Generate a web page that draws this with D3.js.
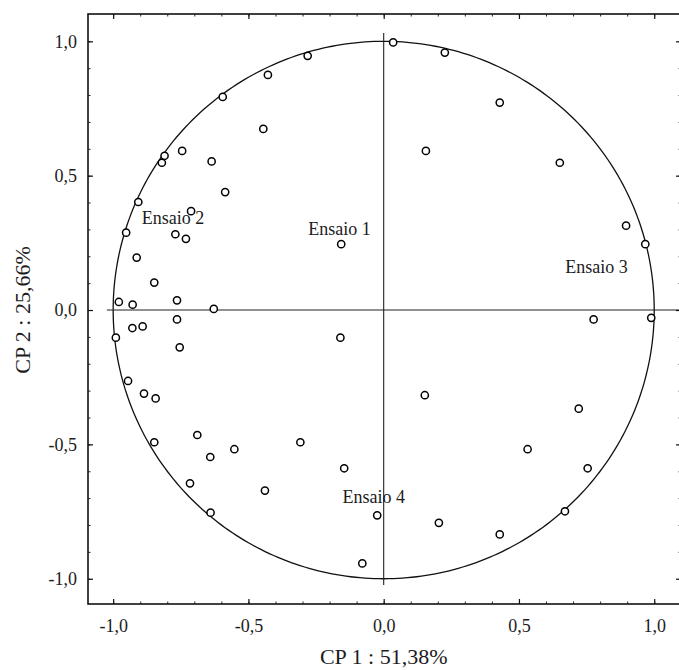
<!DOCTYPE html>
<html>
<head>
<meta charset="utf-8">
<script src="https://cdn.jsdelivr.net/npm/d3@7"></script>
<style>
  body {margin: 0; background: #fff;}
  svg {display: block;}
  text {font-family: "Liberation Serif", "Times New Roman", serif; fill: #1c1c1c;}
</style>
</head>
<body>
<div id="chart"></div>
<script>
`use strict`;

// loadings (CP 1, CP 2)
const CP1 = [
  -0.281, -0.428, -0.595, -0.445, -0.810, -0.820, -0.745, -0.636, -0.586, -0.907,
  -0.712, -0.952, -0.770, -0.731, -0.913, -0.848, -0.979, -0.928, -0.764, -0.628,
  -0.764, -0.929, -0.891, -0.990, -0.754, -0.945, -0.886, -0.843, -0.689, -0.848,
  -0.552, -0.641, -0.308, -0.716, -0.439, -0.640, -0.157, -0.160, 0.035, 0.226,
  0.429, 0.156, 0.651, 0.896, 0.967, 0.776, 0.989, 0.152, 0.721, 0.532,
  0.754, -0.146, -0.024, 0.204, 0.429, 0.670, -0.079
];

const CP2 = [
  0.946, 0.875, 0.793, 0.674, 0.574, 0.548, 0.592, 0.553, 0.439, 0.402,
  0.368, 0.288, 0.282, 0.265, 0.195, 0.102, 0.030, 0.020, 0.036, 0.004,
  -0.035, -0.067, -0.061, -0.103, -0.139, -0.264, -0.311, -0.329, -0.465, -0.492,
  -0.518, -0.547, -0.492, -0.645, -0.672, -0.754, 0.245, -0.103, 0.996, 0.958,
  0.772, 0.592, 0.548, 0.314, 0.245, -0.035, -0.029, -0.317, -0.367, -0.518,
  -0.589, -0.589, -0.764, -0.792, -0.835, -0.749, -0.943
];

const labelNames = [`Ensaio 1`, `Ensaio 2`, `Ensaio 3`, `Ensaio 4`];
const labelX = [-0.279, -0.894, 0.671, -0.152];
const labelY = [0.279, 0.320, 0.137, -0.719];

const majorTicks = [-1, -0.5, 0, 0.5, 1];
const minorTicks = d3.range(-10, 11).map(d => d / 10);

const xTitle = `CP 1 : 51,38%`;
const yTitle = `CP 2 : 25,66%`;

(function () {

  const W = 679, H = 670;

  const M = {left: 88, top: 14, right: 681, bottom: 604};

  let x = d3.scaleLinear().domain([-1.093, 1.099]).range([M.left, M.right]);

  let y = d3.scaleLinear().domain([-1.094, 1.1016]).range([M.bottom, M.top]);

  let fmt = d => d3.format(`.1f`)(d).replace(`−`, `-`).replace(`.`, `,`);

  let svg = d3.select(`#chart`).append(`svg`)
    .attr(`width`, W)
    .attr(`height`, H);

  // unit circle
  let ring = d3.range(0, 361).map(a => [Math.cos(a * Math.PI / 180), Math.sin(a * Math.PI / 180)]);

  svg.append(`path`)
    .datum(ring)
    .attr(`d`, d3.line().x(d => x(d[0])).y(d => y(d[1])))
    .attr(`fill`, `none`)
    .attr(`stroke`, `#111`)
    .style(`stroke-width`, 1.3);

  // cross lines
  svg.append(`line`)
    .attr(`x1`, x(-1.023)).attr(`x2`, x(1.1))
    .attr(`y1`, y(0)).attr(`y2`, y(0))
    .attr(`stroke`, `#222`)
    .style(`stroke-width`, 1.1);

  svg.append(`line`)
    .attr(`x1`, x(0)).attr(`x2`, x(0))
    .attr(`y1`, y(1.031)).attr(`y2`, y(-1.023))
    .attr(`stroke`, `#222`)
    .style(`stroke-width`, 1.1);

  // frame
  svg.append(`rect`)
    .attr(`x`, M.left).attr(`y`, M.top)
    .attr(`width`, M.right - M.left).attr(`height`, M.bottom - M.top)
    .attr(`fill`, `none`)
    .attr(`stroke`, `#111`)
    .style(`stroke-width`, 1.6);

  let axes = [
    [d3.axisBottom(x), `translate(0,${M.bottom})`, true],
    [d3.axisLeft(y), `translate(${M.left},0)`, true],
    [d3.axisTop(x), `translate(0,${M.top})`, false],
    [d3.axisRight(y), `translate(${M.right},0)`, false]
  ];

  axes.forEach(A => {

    let minor = svg.append(`g`)
      .attr(`transform`, A[1])
      .call(A[0].tickValues(minorTicks).tickSize(-2.5).tickFormat(``));

    minor.select(`.domain`).remove();

    minor.selectAll(`line`).attr(`stroke`, `#222`);

    let major = svg.append(`g`)
      .attr(`transform`, A[1])
      .call(A[0].tickValues(majorTicks).tickSize(-5).tickPadding(A[0] === axes[0][0] ? 15 : 11).tickFormat(A[2] ? fmt : ``));

    major.select(`.domain`).remove();

    major.selectAll(`line`).attr(`stroke`, `#111`).style(`stroke-width`, 1.2);

    major.selectAll(`text`)
      .attr(`fill`, `#1c1c1c`)
      .style(`font-family`, `"Liberation Serif", serif`)
      .style(`font-size`, `18px`);
  });

  // points
  svg.append(`g`).selectAll(`circle`).data(CP1)
    .enter()
    .append(`circle`)
    .attr(`cx`, d => x(d))
    .attr(`cy`, (d, i) => y(CP2[i]))
    .attr(`r`, 3.6)
    .attr(`fill`, `#fff`)
    .attr(`stroke`, `#000`)
    .style(`stroke-width`, 1.5);

  // group labels
  svg.append(`g`).selectAll(`text`).data(labelNames)
    .enter()
    .append(`text`)
    .attr(`x`, (d, i) => x(labelX[i]))
    .attr(`y`, (d, i) => y(labelY[i]))
    .style(`font-size`, `18px`)
    .text(d => d);

  // axis titles
  svg.append(`text`)
    .attr(`x`, x(0))
    .attr(`y`, 664)
    .attr(`text-anchor`, `middle`)
    .style(`font-size`, `22px`)
    .text(xTitle);

  svg.append(`text`)
    .attr(`transform`, `translate(30,${y(0)}) rotate(-90)`)
    .attr(`text-anchor`, `middle`)
    .style(`font-size`, `22px`)
    .text(yTitle);

})();
</script>
</body>
</html>
